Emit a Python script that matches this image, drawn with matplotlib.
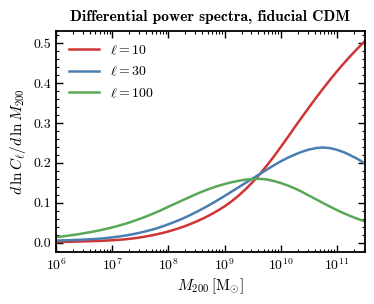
import numpy as np
import matplotlib
matplotlib.use("Agg")
import matplotlib.pyplot as plt
import matplotlib.ticker as ticker

plt.rcParams.update({
    "font.family": "serif",
    "font.serif": ["cmr10"],
    "mathtext.fontset": "cm",
    "axes.formatter.use_mathtext": True,
    "axes.unicode_minus": False,
})

# log10(M200 / Msun), 0.125 dex steps from 1e6 to ~3e11
log_m = [6.0, 6.125, 6.25, 6.375, 6.5, 6.625, 6.75, 6.875, 7.0, 7.125,
         7.25, 7.375, 7.5, 7.625, 7.75, 7.875, 8.0, 8.125, 8.25, 8.375,
         8.5, 8.625, 8.75, 8.875, 9.0, 9.125, 9.25, 9.375, 9.5, 9.625,
         9.75, 9.875, 10.0, 10.125, 10.25, 10.375, 10.5, 10.625, 10.75,
         10.875, 11.0, 11.125, 11.25, 11.375, 11.5]

# d ln C_l / d ln M200
dlnc_l10 = [0.0015, 0.0017, 0.002, 0.0025, 0.003, 0.0035, 0.004, 0.0048,
            0.0058, 0.007, 0.0085, 0.0105, 0.013, 0.016, 0.0195, 0.0234,
            0.028, 0.0332, 0.039, 0.0456, 0.053, 0.0611, 0.070, 0.080,
            0.091, 0.1037, 0.118, 0.1341, 0.152, 0.1716, 0.193, 0.2158,
            0.240, 0.2646, 0.290, 0.3146, 0.339, 0.3628, 0.386, 0.4084,
            0.430, 0.4505, 0.470, 0.4885, 0.506]
dlnc_l30 = [0.005, 0.0055, 0.006, 0.0067, 0.0075, 0.0085, 0.0095, 0.011,
            0.013, 0.0153, 0.018, 0.0212, 0.025, 0.0293, 0.034, 0.0396,
            0.046, 0.0527, 0.060, 0.0681, 0.077, 0.0862, 0.096, 0.1063,
            0.117, 0.128, 0.139, 0.150, 0.161, 0.172, 0.183, 0.1938,
            0.204, 0.213, 0.221, 0.2279, 0.2335, 0.2372, 0.2388, 0.2372,
            0.2330, 0.2268, 0.2185, 0.2093, 0.1985]
dlnc_l100 = [0.0135, 0.0156, 0.018, 0.0206, 0.0235, 0.0266, 0.030, 0.0338,
             0.038, 0.0428, 0.048, 0.0538, 0.060, 0.0668, 0.074, 0.0817,
             0.090, 0.098, 0.106, 0.1141, 0.122, 0.1293, 0.136, 0.1419,
             0.147, 0.1514, 0.155, 0.158, 0.1595, 0.160, 0.1585, 0.1546,
             0.1495, 0.1433, 0.136, 0.1276, 0.118, 0.1088, 0.0995, 0.0904,
             0.0815, 0.0734, 0.066, 0.0592, 0.053]

series = [
    (r"$\ell = 10$", dlnc_l10, "#d03535"),
    (r"$\ell = 30$", dlnc_l30, "#4a7eb0"),
    (r"$\ell = 100$", dlnc_l100, "#58a858"),
]

fig = plt.figure(figsize=(3.74, 3.04), dpi=100)
ax = fig.add_axes([0.150, 0.171, 0.826, 0.727])

mass = 10.0 ** np.array(log_m)
for label, vals, color in series:
    ax.plot(mass, vals, color=color, lw=1.8, label=label)

ax.set_xscale("log")
ax.set_xlim(mass[0], mass[-1])
ax.margins(y=0.05)

ax.yaxis.set_major_locator(ticker.MultipleLocator(0.1))
ax.yaxis.set_minor_locator(ticker.AutoMinorLocator(5))
ax.yaxis.set_major_formatter(ticker.FormatStrFormatter("%.1f"))
ax.xaxis.set_minor_locator(ticker.LogLocator(base=10, subs=np.arange(2, 10), numticks=20))
ax.xaxis.set_minor_formatter(ticker.NullFormatter())

ax.tick_params(which="both", direction="in", top=True, right=True, labelsize=10)
ax.tick_params(which="major", length=5, width=1.0)
ax.tick_params(which="minor", length=2.5, width=0.8)
for sp in ax.spines.values():
    sp.set_linewidth(1.3)

ax.set_xlabel(r"$M_{200}\,[\mathrm{M}_{\odot}]$", fontsize=11, labelpad=3)
ax.set_ylabel(r"$d\,\ln C_\ell/d\,\ln M_{200}$", fontsize=11, labelpad=4)
ax.set_title("Differential power spectra, fiducial CDM", fontfamily="cmb10",
             fontsize=11.2, pad=7)

ax.legend(loc="upper left", frameon=False, fontsize=10, handlelength=2.2,
          borderaxespad=0.5, labelspacing=0.6)

fig.savefig("out.png", dpi=100)
